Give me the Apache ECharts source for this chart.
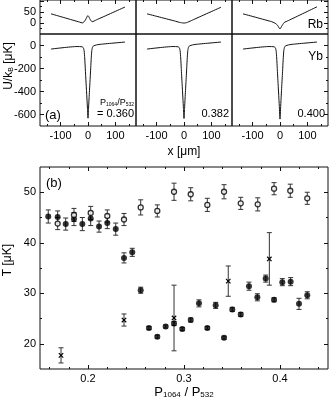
<!DOCTYPE html>
<html>
<head>
<meta charset="utf-8">
<script src="https://cdn.jsdelivr.net/npm/echarts@6/dist/echarts.min.js"></script>
<style>
  html, body { margin: 0; padding: 0; background: #fff; }
  #chart { width: 329px; height: 400px; }
</style>
</head>
<body>
<div id="chart"></div>
<script>
// panel (a): potentials
const rbX = [-135, -30, -21, -14, -10, -6, -3, 0, 3, 6, 10, 15, 30, 135]
const rb360 = [42, 4, 0.5, 6, 13, 22, 30, 34, 29, 21, 12, 6, 14, 73]
const rb382 = [42, 8, 4.5, 2.5, 1.5, 0.7, 0.2, 0, 0.3, 0.9, 2, 4.5, 13, 72]
const rb400 = [42, 6, 1, -4, -9, -16, -23, -27, -22, -15, -7, 2, 11, 74]

const ybX = [-135, -40, -22, -17, -14, -12, -10, -7, -4, -2, 0, 2, 4, 7, 10, 12, 14, 17, 22, 40, 135]
const yb360 = [-31, -9, -11, -19, -48, -108, -197, -327, -456, -545, -632, -545, -454, -323, -193, -102, -42, -11, -1, 9, 30]
const yb382 = [-31, -9, -11, -19, -48, -109, -198, -329, -458, -548, -635, -548, -456, -325, -194, -103, -42, -11, -1, 9, 30]
const yb400 = [-31, -9, -11, -19, -49, -110, -200, -331, -461, -551, -640, -551, -459, -327, -196, -104, -43, -11, -1, 9, 30]

const ratioLabels = ['0.360', '0.382', '0.400']

// panel (b): temperatures
const filledX = [0.1586, 0.1684, 0.1768, 0.1854, 0.1941, 0.2028, 0.2115, 0.2201, 0.2289, 0.2375, 0.2461, 0.2549, 0.2635, 0.2722, 0.2809, 0.2896, 0.2982, 0.307, 0.3156, 0.3243, 0.333, 0.3417, 0.3503, 0.3591, 0.3677, 0.3764, 0.3851, 0.3938, 0.4024, 0.4111, 0.4198, 0.4284]
const filledT = [45.2, 45.1, 43.7, 44.7, 43.7, 44.8, 43.2, 43.9, 42.7, 37.0, 38.1, 30.6, 23.1, 21.4, 23.4, 24.0, 22.9, 24.7, 28.0, 23.1, 27.6, 21.2, 26.8, 25.8, 31.4, 29.2, 32.9, 28.7, 32.2, 32.3, 27.9, 29.6]
const filledErr = [1.3, 1.2, 1.2, 1.3, 1.3, 1.4, 1.1, 1.1, 1.2, 1.0, 0.8, 0.6, 0.3, 0.3, 0.3, 0.4, 0.3, 0.4, 0.7, 0.3, 0.6, 0.3, 0.4, 0.4, 0.8, 0.7, 0.7, 0.4, 0.7, 0.8, 1.1, 0.7]

const openX = [0.1684, 0.1854, 0.2028, 0.2201, 0.2375, 0.2549, 0.2722, 0.2896, 0.307, 0.3243, 0.3417, 0.3591, 0.3768, 0.3938, 0.4107, 0.4284]
const openT = [43.8, 45.5, 45.9, 45.3, 44.6, 47.0, 46.3, 50.1, 49.6, 47.5, 50.1, 47.8, 47.6, 50.7, 50.3, 48.8]
const openErr = [1.2, 1.3, 1.3, 1.2, 1.2, 1.5, 1.2, 1.7, 1.3, 1.3, 1.4, 1.2, 1.3, 1.2, 1.3, 1.2]

const crossX = [0.1719, 0.2375, 0.2896, 0.3461, 0.3889]
const crossT = [17.7, 24.7, 25.1, 32.4, 36.8]
const crossErr = [1.5, 1.2, 6.5, 3.0, 5.2]

// ticks
const potXMajor = [-100, 0, 100]
const potXMinor = [-150, -50, 50, 150]
const rbYMajor = [0, 50, 100]
const rbYMinor = [-25, 25, 75]
const ybYMajor = [-600, -400, -200, 0]
const ybYMinor = [-500, -300, -100]
const tXMajor = [0.2, 0.3, 0.4]
const tXMinor = [0.16, 0.18, 0.22, 0.24, 0.26, 0.28, 0.32, 0.34, 0.36, 0.38, 0.42, 0.44]
const tYMajor = [20, 30, 40, 50]
const tYMinor = [25, 35, 45]

const FONT = 'Liberation Sans, Arial, sans-serif'
const INK = '#111'

const xAxes = []
const yAxes = []

function addAxis(list, grid, pos, min, max, major, minor, labels) {
  const base = {
    gridIndex: grid,
    type: 'value',
    position: pos,
    min: min,
    max: max,
    axisLine: { show: false, onZero: false },
    splitLine: { show: false }
  }
  const idx = list.length
  list.push(Object.assign({}, base, {
    axisTick: { show: major.length > 0, inside: true, length: 4, customValues: major, lineStyle: { color: INK } },
    axisLabel: labels
      ? { show: true, customValues: labels, fontSize: 11, fontFamily: FONT, color: '#000', margin: 4 }
      : { show: false }
  }))
  if (minor.length) {
    list.push(Object.assign({}, base, {
      axisTick: { show: true, inside: true, length: 2, customValues: minor, lineStyle: { color: INK } },
      axisLabel: { show: false }
    }))
  }
  return idx
}

const grids = []
const series = []
const colLeft = [40, 136, 232]
const rbCurves = [rb360, rb382, rb400]
const ybCurves = [yb360, yb382, yb400]

function lineSeries(xs, ys, xi, yi) {
  return {
    type: 'line',
    xAxisIndex: xi,
    yAxisIndex: yi,
    data: xs.map((x, i) => [x, ys[i]]),
    showSymbol: false,
    symbol: 'none',
    smooth: 0.2,
    lineStyle: { color: INK, width: 1 }
  }
}

colLeft.forEach((left, c) => {
  // Rb row
  const gRb = grids.length
  grids.push({ left: left, top: 0, width: 96, height: 34 })
  const xRb = addAxis(xAxes, gRb, 'bottom', -175, 175, [], [], null)
  addAxis(xAxes, gRb, 'top', -175, 175, potXMajor, potXMinor, null)
  const yRb = c === 0
    ? addAxis(yAxes, gRb, 'left', -50, 105, rbYMajor, rbYMinor, [0, 50])
    : addAxis(yAxes, gRb, 'left', -50, 105, [], [], null)
  if (c === 2) addAxis(yAxes, gRb, 'right', -50, 105, rbYMajor, rbYMinor, null)
  series.push(lineSeries(rbX, rbCurves[c], xRb, yRb))

  // Yb row
  const gYb = grids.length
  grids.push({ left: left, top: 34, width: 96, height: 92 })
  const xYb = addAxis(xAxes, gYb, 'bottom', -175, 175, potXMajor, potXMinor, potXMajor)
  const yYb = c === 0
    ? addAxis(yAxes, gYb, 'left', -700, 100, ybYMajor, ybYMinor, ybYMajor)
    : addAxis(yAxes, gYb, 'left', -700, 100, [], [], null)
  if (c === 2) addAxis(yAxes, gYb, 'right', -700, 100, ybYMajor, ybYMinor, null)
  series.push(lineSeries(ybX, ybCurves[c], xYb, yYb))
})

// panel (b)
const gT = grids.length
grids.push({ left: 40, top: 167, width: 288, height: 202 })
const xT = addAxis(xAxes, gT, 'bottom', 0.15, 0.45, tXMajor, tXMinor, tXMajor)
addAxis(xAxes, gT, 'top', 0.15, 0.45, tXMajor, tXMinor, null)
const yT = addAxis(yAxes, gT, 'left', 15, 55, tYMajor, tYMinor, tYMajor)
addAxis(yAxes, gT, 'right', 15, 55, tYMajor, tYMinor, null)

function errorBars(xs, ys, es, withCross) {
  return {
    type: 'custom',
    xAxisIndex: xT,
    yAxisIndex: yT,
    silent: true,
    z: 2,
    data: xs.map((x, i) => [x, ys[i], es[i]]),
    renderItem: (params, api) => {
      const x = api.value(0)
      const y = api.value(1)
      const e = api.value(2)
      const top = api.coord([x, y + e])
      const bot = api.coord([x, y - e])
      const mid = api.coord([x, y])
      const w = 2.5
      const st = { stroke: '#333', lineWidth: 1 }
      const children = [
        { type: 'line', shape: { x1: top[0], y1: top[1], x2: bot[0], y2: bot[1] }, style: st },
        { type: 'line', shape: { x1: top[0] - w, y1: top[1], x2: top[0] + w, y2: top[1] }, style: st },
        { type: 'line', shape: { x1: bot[0] - w, y1: bot[1], x2: bot[0] + w, y2: bot[1] }, style: st }
      ]
      if (withCross) {
        const s = 2.2
        const cs = { stroke: '#000', lineWidth: 1.2 }
        children.push({ type: 'line', shape: { x1: mid[0] - s, y1: mid[1] - s, x2: mid[0] + s, y2: mid[1] + s }, style: cs })
        children.push({ type: 'line', shape: { x1: mid[0] - s, y1: mid[1] + s, x2: mid[0] + s, y2: mid[1] - s }, style: cs })
      }
      return { type: 'group', children: children }
    }
  }
}

series.push(errorBars(filledX, filledT, filledErr, false))
series.push(errorBars(openX, openT, openErr, false))
series.push(errorBars(crossX, crossT, crossErr, true))
series.push({
  type: 'scatter',
  xAxisIndex: xT,
  yAxisIndex: yT,
  z: 3,
  symbol: 'circle',
  symbolSize: 6,
  itemStyle: { color: '#000' },
  data: filledX.map((x, i) => [x, filledT[i]])
})
series.push({
  type: 'scatter',
  xAxisIndex: xT,
  yAxisIndex: yT,
  z: 3,
  symbol: 'circle',
  symbolSize: 5,
  itemStyle: { color: '#fff', borderColor: '#000', borderWidth: 1.3 },
  data: openX.map((x, i) => [x, openT[i]])
})

function txt(x, y, text, size, align, extra) {
  return Object.assign({
    type: 'text',
    x: x,
    y: y,
    silent: true,
    style: {
      text: text,
      fontSize: size,
      fontFamily: FONT,
      fill: '#000',
      align: align,
      verticalAlign: 'middle'
    }
  }, extra || {})
}

const subRich = {
  n: { fontSize: 12, fontFamily: FONT, color: '#000', verticalAlign: 'bottom', lineHeight: 14 },
  s: { fontSize: 7, fontFamily: FONT, color: '#000', verticalAlign: 'bottom', lineHeight: 11 },
  p: { fontSize: 9, fontFamily: FONT, color: '#000', verticalAlign: 'bottom', lineHeight: 11 },
  q: { fontSize: 5, fontFamily: FONT, color: '#000', verticalAlign: 'bottom', lineHeight: 9 },
  t: { fontSize: 13, fontFamily: FONT, color: '#000', verticalAlign: 'bottom', lineHeight: 15 },
  u: { fontSize: 8, fontFamily: FONT, color: '#000', verticalAlign: 'bottom', lineHeight: 12 }
}

const graphics = [
  txt(323, 25, 'Rb', 12, 'right'),
  txt(323, 57, 'Yb', 12, 'right'),
  txt(45, 115, '(a)', 13, 'left'),
  { type: 'text', x: 134, y: 102, silent: true,
    style: { text: '{p|P}{q|1064}{p|/P}{q|532}', rich: subRich, align: 'right', verticalAlign: 'middle' } },
  txt(134, 114, '= ' + ratioLabels[0], 11, 'right'),
  txt(229, 114, ratioLabels[1], 11, 'right'),
  txt(325, 114, ratioLabels[2], 11, 'right'),
  txt(184, 152, 'x [μm]', 12, 'center'),
  { type: 'text', x: 8, y: 66, rotation: Math.PI / 2, silent: true,
    style: { text: '{n|U/k}{s|B}{n| [μK]}', rich: subRich, align: 'center', verticalAlign: 'middle' } },
  txt(46, 183, '(b)', 13, 'left'),
  { type: 'text', x: 8, y: 260, rotation: Math.PI / 2, silent: true,
    style: { text: 'T [μK]', fontSize: 12, fontFamily: FONT, fill: '#000', align: 'center', verticalAlign: 'middle' } },
  { type: 'text', x: 184, y: 391, silent: true,
    style: { text: '{t|P}{u|1064}{t| / P}{u|532}', rich: subRich, align: 'center', verticalAlign: 'middle' } }
]

const chart = echarts.init(document.getElementById('chart'), null, { renderer: 'canvas' })
chart.setOption({
  animation: false,
  backgroundColor: '#fff',
  grid: grids.map((g) => Object.assign({ show: true, borderColor: INK, borderWidth: 1, backgroundColor: 'transparent', containLabel: false }, g)),
  xAxis: xAxes,
  yAxis: yAxes,
  series: series,
  graphic: graphics
})
</script>
</body>
</html>
